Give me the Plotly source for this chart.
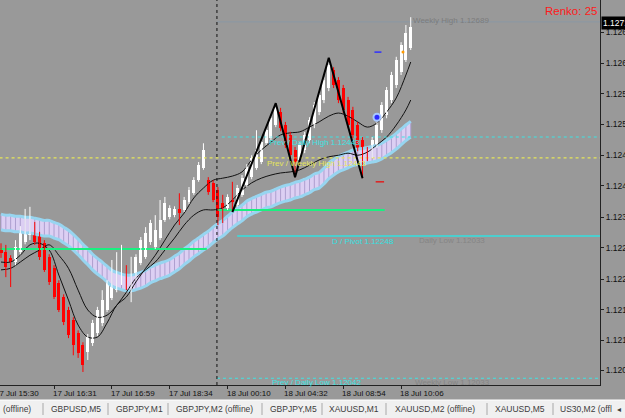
import plotly.graph_objects as go

PT = 1e-5  # one point of a 5-digit EURUSD-style quote

# ---------------- data (in points, i.e. price * 1e5) ----------------
OPEN_PTS = [112281,112273,112262,112254,112273,112292,112306,112321,112306,112290,
            112264,112242,112214,112187,112162,112143,112118,112095,112081,112098,
            112118,112137,112162,112185,112200,112216,112225,112219,112225,112252,
            112264,112292,112283,112300,112335,112340,112344,112356,112354,112369,
            112386,112411,112434,112411,112406,112392,112367,112358,112373,112363,
            112383,112402,112417,112434,112446,112482,112492,112517,112542,112517,
            112498,112469,112450,112469,112488,112517,112542,112565,112588,112623,
            112603,112588,112565,112546,112517,112488,112469,112459,112479,112507,
            112536,112565,112594,112619,112642,112665]
HIGH_PTS = [112290,112287,112267,112296,112323,112356,112360,112331,112312,112296,
            112269,112248,112219,112192,112168,112148,112123,112100,112116,112143,
            112168,112200,112219,112258,112273,112287,112248,112264,112269,112302,
            112321,112335,112344,112373,112379,112363,112361,112386,112379,112398,
            112417,112446,112482,112417,112411,112398,112383,112384,112408,112402,
            112421,112442,112459,112507,112490,112513,112536,112559,112550,112523,
            112504,112475,112484,112504,112532,112561,112580,112609,112646,112628,
            112609,112594,112571,112552,112523,112494,112475,112494,112523,112561,
            112590,112619,112648,112676,112709,112724]
LOW_PTS = [112262,112225,112206,112248,112269,112288,112296,112287,112258,112235,
           112210,112183,112158,112133,112108,112075,112070,112043,112066,112093,
           112112,112131,112158,112181,112196,112210,112200,112177,112219,112248,
           112260,112287,112279,112296,112331,112336,112340,112325,112350,112365,
           112383,112408,112431,112383,112369,112325,112329,112354,112350,112360,
           112379,112398,112413,112431,112442,112479,112488,112513,112505,112473,
           112450,112417,112444,112463,112482,112511,112536,112559,112582,112588,
           112559,112540,112511,112492,112467,112415,112448,112454,112473,112502,
           112530,112559,112588,112613,112638,112661]
CLOSE_PTS = [112271,112244,112254,112283,112315,112340,112325,112292,112264,112239,
             112216,112187,112162,112139,112114,112095,112079,112056,112110,112137,
             112162,112181,112214,112225,112225,112229,112217,112229,112264,112296,
             112310,112329,112315,112335,112367,112358,112356,112348,112373,112392,
             112411,112440,112469,112388,112373,112340,112358,112379,112369,112396,
             112415,112436,112454,112469,112484,112507,112530,112550,112511,112479,
             112459,112446,112479,112498,112527,112555,112575,112603,112632,112594,
             112565,112546,112517,112498,112473,112450,112454,112488,112517,112555,
             112584,112613,112642,112671,112694,112705]

BAND_MID_PTS = [112331,112329,112329,112327,112327,112325,112325,112323,112321,112319,
                112319,112315,112312,112306,112300,112292,112283,112273,112264,112254,
                112246,112239,112231,112223,112219,112216,112214,112214,112216,112219,
                112223,112229,112233,112237,112240,112244,112250,112256,112264,112271,
                112279,112285,112292,112298,112306,112313,112319,112327,112335,112342,
                112348,112356,112361,112365,112369,112373,112375,112379,112383,112386,
                112388,112392,112394,112398,112402,112408,112411,112419,112429,112436,
                112442,112446,112450,112454,112456,112457,112459,112461,112463,112467,
                112473,112479,112486,112494,112502,112509]
BAND_HALF_PTS = 15

MA_IDX = list(range(0, 86, 2)) + [85]
MA_FAST_PTS = [112254,112254,112267,112287,112290,112277,112229,112181,112133,112110,
               112110,112137,112171,112187,112216,112242,112267,112296,112325,112348,
               112377,112396,112411,112415,112419,112427,112450,112469,112484,112498,
               112502,112504,112513,112523,112534,112540,112534,112523,112513,112521,
               112542,112569,112613,112638]
MA_SLOW_PTS = [112239,112242,112254,112267,112277,112287,112267,112242,112200,112162,
               112148,112152,112171,112196,112223,112239,112254,112277,112300,112325,
               112344,112354,112354,112358,112373,112392,112406,112415,112421,112425,
               112427,112431,112440,112450,112456,112459,112463,112459,112465,112479,
               112494,112517,112546,112565]

ZZ_IDX = [48, 57, 61, 68, 75]
ZZ_PTS = [112350, 112559, 112417, 112646, 112415]

# horizontal levels: (value pts, start idx, end idx, colour, dash, width)
LEVELS = [
    (112715, 44.8, 124.3, "#8a98a6", "solid", 1),      # weekly high
    (112494, 45.8, 124.3, "#3fe3e3", "dot", 1.2),      # prev daily high
    (112454, -0.3, 124.3, "#e6e65a", "dot", 1.2),      # prev weekly high
    (112354, 44.8, 79.6, "#19f080", "solid", 2),       # green level
    (112304, 49.0, 124.3, "#33e0e0", "solid", 1.5),    # daily pivot
    (112279, -0.3, 42.7, "#19f080", "solid", 2),       # green level (old)
    (112031, 44.8, 124.3, "#3fe3e3", "dot", 1.2),      # prev daily low
]
SEPARATOR_IDX = 44.8

TICK_IDX = [11, 23, 35, 47, 59, 71, 83]
TICK_LABELS = ["17 Jul 16:31", "17 Jul 16:59", "17 Jul 18:34", "18 Jul 00:10",
               "18 Jul 04:32", "18 Jul 08:54", "18 Jul 10:06"]
FIRST_LABEL = "17 Jul 15:30"
Y_TICKS = [1.12046, 1.12104, 1.12162, 1.12221, 1.12281, 1.12340,
           1.12400, 1.12459, 1.12518, 1.12577, 1.12636, 1.12695]
BID = 1.12712

TABS = ["(offline)", "GBPUSD,M5", "GBPJPY,M1", "GBPJPY,M2 (offline)", "GBPJPY,M5",
        "XAUUSD,M1", "XAUUSD,M2 (offline)", "XAUUSD,M5", "US30,M2 (offl"]

# ---------------- geometry helpers ----------------
W, H = 625, 418
PL, PR, PT_, PB = 0, 600, 0, 385          # plot area in pixels
X_RANGE = [-0.21, 124.27]
Y_RANGE = [1.12018, 1.12757]

def px_x(px):
    return (px - PL) / (PR - PL)

def px_y(py):
    return (PB - py) / (PB - PT_)

p = lambda v: v * PT
O = [p(v) for v in OPEN_PTS]
Hh = [p(v) for v in HIGH_PTS]
L = [p(v) for v in LOW_PTS]
C = [p(v) for v in CLOSE_PTS]
N = len(O)
IDX = list(range(N))

fig = go.Figure()

# ---- band (lavender, hatched, light-blue outline) ----
up = [p(v + BAND_HALF_PTS) for v in BAND_MID_PTS]
lo = [p(v - BAND_HALF_PTS) for v in BAND_MID_PTS]
fig.add_trace(go.Scatter(x=IDX, y=lo, mode="lines", line=dict(width=0, shape="spline"),
                         hoverinfo="skip"))
fig.add_trace(go.Scatter(x=IDX, y=up, mode="lines", line=dict(width=0, shape="spline"),
                         fill="tonexty", fillcolor="#dccff3", hoverinfo="skip"))
hx, hy = [], []
for i in IDX:
    hx += [i, i, None]
    hy += [lo[i], up[i], None]
fig.add_trace(go.Scatter(x=hx, y=hy, mode="lines", line=dict(width=1, color="#ad9fcf"),
                         hoverinfo="skip"))
for arr in (up, lo):
    fig.add_trace(go.Scatter(x=IDX, y=arr, mode="lines",
                             line=dict(width=3, color="#97d5f0", shape="spline"),
                             hoverinfo="skip"))

# ---- moving averages ----
for arr in (MA_FAST_PTS, MA_SLOW_PTS):
    fig.add_trace(go.Scatter(x=MA_IDX, y=[p(v) for v in arr], mode="lines",
                             line=dict(width=1, color="#111111", shape="spline"),
                             hoverinfo="skip"))

# ---- levels ----
for val, x0, x1, col, dash, wd in LEVELS:
    fig.add_trace(go.Scatter(x=[x0, x1], y=[p(val), p(val)], mode="lines",
                             line=dict(width=wd, color=col, dash=dash), hoverinfo="skip"))

# ---- candles ----
for bull, col in ((True, "#ffffff"), (False, "#ff0000")):
    sel = [i for i in IDX if (C[i] >= O[i]) == bull]
    fig.add_trace(go.Bar(x=sel, base=[min(O[i], C[i]) for i in sel],
                         y=[max(abs(C[i] - O[i]), 0.6 * PT) for i in sel],
                         width=0.62, marker=dict(color=col, line=dict(width=0)),
                         hoverinfo="skip"))
    wx, wy = [], []
    for i in sel:
        wx += [i, i, None]
        wy += [L[i], Hh[i], None]
    fig.add_trace(go.Scatter(x=wx, y=wy, mode="lines", line=dict(width=1, color=col),
                             hoverinfo="skip"))

# ---- zigzag ----
fig.add_trace(go.Scatter(x=ZZ_IDX, y=[p(v) for v in ZZ_PTS], mode="lines",
                         line=dict(width=2, color="#000000"), hoverinfo="skip"))

# ---- small signal marks ----
fig.add_trace(go.Scatter(x=[78.2], y=[1.12657], mode="markers",
                         marker=dict(symbol="line-ew", size=5, line=dict(width=1.5, color="#3030ff"))))
fig.add_trace(go.Scatter(x=[78.6], y=[1.12408], mode="markers",
                         marker=dict(symbol="line-ew", size=6, line=dict(width=1.5, color="#e02020"))))
fig.add_trace(go.Scatter(x=[78.0], y=[1.12532], mode="markers",
                         marker=dict(size=7, color="#2a2aff", line=dict(width=2, color="#a8c8ff"))))
fig.add_trace(go.Scatter(x=[83.4], y=[1.12657], mode="markers",
                         marker=dict(size=3, color="#ff9a00")))

shapes = [
    dict(type="line", xref="x", yref="paper", x0=SEPARATOR_IDX, x1=SEPARATOR_IDX, y0=0, y1=1,
         line=dict(color="#111111", width=1, dash="dot")),
    dict(type="rect", xref="paper", yref="paper", x0=-0.01, x1=W / 600 + 0.01,
         y0=px_y(400), y1=px_y(419), fillcolor="#f0f0f0", line=dict(width=0), layer="below"),
    dict(type="line", xref="paper", yref="paper", x0=-0.01, x1=W / 600 + 0.01,
         y0=px_y(400), y1=px_y(400), line=dict(color="#ffffff", width=1)),
]
for sx in [43, 108, 168, 262, 322, 386, 487, 553]:
    shapes.append(dict(type="line", xref="paper", yref="paper", x0=px_x(sx), x1=px_x(sx),
                       y0=px_y(403), y1=px_y(415), line=dict(color="#a8a8a8", width=1)))

ann = []
def text(px, py, s, color, size=8, anchor="left"):
    ann.append(dict(xref="paper", yref="paper", x=px_x(px), y=px_y(py), text=s,
                    showarrow=False, xanchor=anchor, yanchor="middle", borderpad=0,
                    font=dict(family="Arial", size=size, color=color)))

text(544, 11, "Renko: 25", "#ff1a1a", 11.5)
text(412, 20, "Weekly High 1.12689", "#7c7c7c")
text(268, 142, "Prev / Daily High 1.12443", "#3fe3e3")
text(266, 163, "Prev / Weekly High 1.12443", "#e6e65a")
text(331, 241, "D / Pivot 1.12248", "#33e0e0")
text(418, 240, "Daily Low 1.12033", "#858585")
text(271, 382, "Prev / Daily Low 1.12042", "#3fe3e3")
text(414, 382, "Weekly Low 1.12033", "#858585")

# x-axis labels (left aligned at tick)
text(-6, 393, FIRST_LABEL, "#111111", 8)
for ti, lab in zip(TICK_IDX, TICK_LABELS):
    xpx = (ti - X_RANGE[0]) / (X_RANGE[1] - X_RANGE[0]) * 600
    text(xpx - 2, 393, lab, "#111111", 8)

# tabs
for px, s in zip([2, 50, 115, 175, 269, 328, 394, 494, 559], TABS):
    text(px, 409, s, "#3c3c3c", 8.5)
text(616, 409, "◂", "#3c3c3c", 8)

# bid box
ann.append(dict(xref="paper", yref="y", x=px_x(601), y=BID, text="1.12712", showarrow=False,
                xanchor="left", yanchor="middle", bgcolor="#000000", borderpad=1,
                font=dict(family="Arial", size=8.5, color="#ffffff")))

fig.update_layout(
    width=W, height=H, margin=dict(l=PL, r=W - PR, t=PT_, b=H - PB, autoexpand=False),
    paper_bgcolor="#999999", plot_bgcolor="#999999", showlegend=False,
    barmode="overlay", bargap=0,
    shapes=shapes, annotations=ann,
    xaxis=dict(range=X_RANGE, showgrid=False, zeroline=False, showline=True,
               linecolor="#222222", linewidth=1, ticks="outside", ticklen=3,
               tickcolor="#222222", tickvals=TICK_IDX, showticklabels=False,
               fixedrange=True, automargin=False),
    yaxis=dict(range=Y_RANGE, side="right", showgrid=False, zeroline=False,
               showline=True, linecolor="#222222", linewidth=1, ticks="outside",
               ticklen=3, tickcolor="#222222", tickvals=Y_TICKS,
               ticktext=[f"{v:.5f}" for v in Y_TICKS],
               tickfont=dict(family="Arial", size=8.5, color="#111111"),
               fixedrange=True, automargin=False),
)

fig.write_html("out.html")
